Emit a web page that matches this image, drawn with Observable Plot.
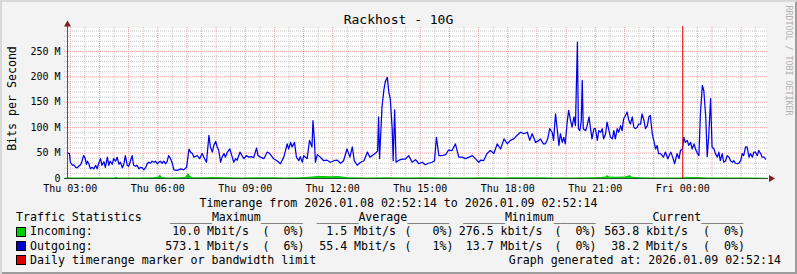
<!DOCTYPE html>
<html>
<head>
<meta charset="utf-8">
<script src="https://cdn.jsdelivr.net/npm/d3@7"></script>
<script src="https://cdn.jsdelivr.net/npm/@observablehq/plot@0.6"></script>
<style>
html,body{margin:0;padding:0;background:#ffffff;}
#wrap{position:relative;width:797px;height:274px;background:#f3f3f3;overflow:hidden;
 box-shadow: inset 2px 2px 0 #d8d8d8, inset -2px -2px 0 #9c9c9c;
 font-family:"DejaVu Sans Mono",monospace;color:#000;}
#wrap svg{position:absolute;left:0;top:0;}
.t{position:absolute;white-space:pre;}
.box{position:absolute;width:8px;height:8px;border:1px solid #000;}
</style>
</head>
<body>
<div id="wrap"></div>
<script>
// ---------------- data ----------------
const title = "Rackhost - 10G";
const yLabel = "Bits per Second";
const watermark = "RRDTOOL / TOBI OETIKER";
const timerangeText = "Timerange from 2026.01.08 02:52:14 to 2026.01.09 02:52:14";
const statsTitle = "Traffic Statistics";
const statHeaders = ["Maximum", "Average", "Minimum", "Current"];
const seriesNames = ["Incoming:", "Outgoing:"];
const seriesColors = ["#00cc00", "#0000cc"];
const markerText = "Daily timerange marker or bandwidth limit";
const markerColor = "#dd0000";
const generatedText = "Graph generated at: 2026.01.09 02:52:14";
const maxValues = ["10.0 Mbit/s", "573.1 Mbit/s"];
const maxPercents = ["0", "6"];
const avgValues = ["1.5 Mbit/s", "55.4 Mbit/s"];
const avgPercents = ["0", "1"];
const minValues = ["276.5 kbit/s", "13.7 Mbit/s"];
const minPercents = ["0", "0"];
const curValues = ["563.8 kbit/s", "38.2 Mbit/s"];
const curPercents = ["0", "0"];

// y tick values in Mbit/s
const yTicksM = [0, 50, 100, 150, 200, 250];

// Outgoing: minutes after 02:52:14, Mbit/s
const outMinutes = [3,6,8,12,15,19,22,25,29,32,35,38,41,43,46,49,53,56,60,63,66,70,73,77,80,84,87,90,94,97,101,104,108,111,115,118,121,125,128,132,135,138,142,145,149,152,156,159,163,166,169,173,176,180,183,187,190,193,197,200,204,207,210,214,217,221,228,235,241,247,252,255,259,262,269,274,279,284,288,293,296,300,303,307,310,313,317,320,324,327,331,336,341,344,348,351,357,361,365,370,375,380,385,391,394,399,406,413,418,
426,433,440,447,454,457,461,464,469,473,478,481,485,488,495,500,505,507,510,512,516,522,529,536,543,550,557,564,570,577,583,588,592,598,605,612,619,624,629,636,640,642,644,649,653,656,660,663,666,670,672,675,678,684,691,697,704,711,718,725,732,738,745,752,757,761,766,773,780,786,793,800,807,814,821,828,835,841,848,852,858,865,872,879,886,893,900,907,913,920,927,934,941,948,953,958,965,972,
975,981,985,990,994,999,1002,1006,1009,1013,1016,1020,1023,1026,1030,1033,1037,1040,1044,1047,1051,1053,1056,1059,1061,1063,1068,1071,1075,1078,1081,1085,1088,1092,1095,1099,1102,1105,1109,1112,1116,1119,1123,1126,1129,1133,1136,1140,1143,1146,1150,1153,1157,1160,1164,1167,1170,1174,1177,1181,1184,1188,1191,1195,1198,1201,1205,1208,1212,1215,1218,1222,
1228,1232,1237,1243,1247,1251,1256,1260,1263,1267,1270,1273,1277,1280,1284,1287,1291,1294,1298,1301,1304,1308,1311,1315,1318,1321,1325,1328,1332,1335,1339,1342,1345,1349,1352,1356,1359,1363,1366,1370,1373,1376,1380,1383,1387,1390,1393,1397,1400,1404,1407,1411,1414,1417,1421,1424,1428,1431,1435,1438];
const outMbps = [50,49,32,26,27,22,21,24,27,34,45,41,28,34,29,19,22,19,26,19,29,39,26,33,22,42,26,34,28,39,34,42,28,32,21,28,45,26,24,36,45,26,24,26,19,22,21,17,22,29,32,30,34,32,34,29,32,34,30,34,29,33,45,39,32,17,16,19,17,22,58,52,49,42,45,39,49,39,32,85,62,52,65,73,62,56,32,42,49,42,52,58,42,32,39,36,52,45,39,45,42,43,41,60,45,42,39,52,49,
39,35,29,42,68,58,71,62,71,42,35,43,32,45,39,75,62,114,75,32,47,42,35,36,32,35,36,30,35,58,42,62,35,26,32,35,52,42,45,50,54,121,39,140,175,191,199,170,157,98,35,135,32,36,38,38,45,32,37,29,32,27,30,32,35,81,45,45,47,56,55,68,42,42,39,42,45,39,32,36,35,49,55,49,68,58,78,68,75,78,85,91,88,91,75,88,71,75,
78,68,68,78,98,91,75,127,101,65,88,71,81,68,111,134,114,101,121,104,268,98,94,114,193,98,94,104,121,98,78,98,98,75,94,91,98,78,88,111,94,81,78,94,78,98,91,104,94,117,124,131,114,107,121,101,98,101,107,107,127,114,98,104,121,124,88,75,58,65,49,49,
42,52,39,52,42,29,49,39,55,58,81,71,75,65,71,58,68,58,49,45,127,183,173,121,43,81,157,62,58,49,42,52,35,49,32,35,45,42,35,32,35,30,29,30,35,49,45,62,62,42,49,42,52,52,45,55,49,42,42,38];

// Incoming: minutes after 02:52:14, Mbit/s
const inMinutes = [0,20,40,60,80,100,103,106,130,150,180,190,193,197,210,230,245,251,255,260,280,300,330,360,400,430,450,480,500,518,530,545,560,580,620,660,700,740,780,820,860,900,940,980,1000,1040,1080,1100,1110,1113,1117,1130,1150,1160,1164,1180,1220,1260,1280,1300,1320,1360,1400,1438];
const inMbps = [1.2,1.0,0.8,1.2,1.0,1.2,2.6,1.0,1.0,1.2,1.4,3,7,2,1.2,1.5,2,10,4,1.5,1.5,2,1.5,1.2,1.5,1.5,1.2,1.5,2.5,4,4,3.5,4,1.5,1.2,1.5,1.2,1.5,1.2,1.2,1.5,1.2,1.5,1.5,1.2,1.2,1.5,2,3,6,3,2.5,3,6,2.5,1.5,1,1,2,2,1.2,1,1,0.6];

// ---------------- chart ----------------
const start = new Date(2026, 0, 8, 2, 52, 14);
const end = new Date(2026, 0, 9, 2, 52, 14);
const marker = new Date(2026, 0, 9, 0, 0, 0);
const yMax = 295e6;
const pxT = (end - start) / 700;
const pxY = yMax / 150;
const at = m => new Date(+start + m * 60000);

const outgoing = outMinutes.map((m, i) => ({time: at(m), bps: outMbps[i] * 1e6}));
const incoming = inMinutes.map((m, i) => ({time: at(m), bps: inMbps[i] * 1e6}));

const hours = d3.timeHour.range(start, end);
const halfHours = d3.timeMinute.every(30).range(start, end).filter(d => d.getMinutes() === 30);
const labelTicks = d3.timeHour.every(3).range(start, end);
const yTicks = yTicksM.map(v => v * 1e6);
const majorY = yTicks.filter(v => v > 0);
const minorY = d3.range(10, 300, 10).filter(v => v % 50 !== 0).map(v => v * 1e6).filter(v => v <= yMax);
const gx1 = new Date(+start - 2 * pxT), gx2 = new Date(+end + 2 * pxT);

const minorColor = "#c6c6c6", majorColor = "#efa0a0";

const chart = Plot.plot({
  width: 797, height: 274,
  marginLeft: 66, marginRight: 31, marginTop: 28, marginBottom: 96,
  style: {background: "transparent", fontFamily: '"DejaVu Sans Mono", monospace', fontSize: "10px", color: "#000", overflow: "visible"},
  x: {type: "time", domain: [start, end]},
  y: {type: "linear", domain: [0, yMax]},
  marks: [
    Plot.frame({fill: "#ffffff", stroke: "none"}),
    Plot.ruleY(minorY, {x1: gx1, x2: gx2, stroke: minorColor, strokeDasharray: "1,1"}),
    Plot.ruleX(halfHours, {y1: 0, y2: yMax + 2 * pxY, stroke: minorColor, strokeDasharray: "1,1"}),
    Plot.ruleY(majorY, {x1: gx1, x2: gx2, stroke: majorColor, strokeDasharray: "1,1"}),
    Plot.ruleX(hours, {y1: 0, y2: yMax + 2 * pxY, stroke: majorColor, strokeDasharray: "1,1"}),
    Plot.areaY(incoming, {x: "time", y: "bps", fill: "#00cc00"}),
    Plot.lineY(outgoing, {x: "time", y: "bps", stroke: "#0000ee", strokeWidth: 1.25}),
    Plot.ruleX([marker], {y1: 0, y2: yMax + 2 * pxY, stroke: "#e00000", strokeWidth: 1}),
    Plot.ruleY([0], {x1: gx1, x2: gx2, stroke: "#1f5a2a"}),
    Plot.ruleX([start], {y1: 0, y2: yMax + 3 * pxY, stroke: "#555555", dx: 1}),
    Plot.dot([{t: start, v: yMax + 4 * pxY}], {x: "t", y: "v", symbol: "triangle", r: 2.6, fill: "#7f1f1f", stroke: "none", dx: 1}),
    Plot.dot([{t: new Date(+end + 4.5 * pxT), v: 0}], {x: "t", y: "v", symbol: "triangle", rotate: 90, r: 2.6, fill: "#7f1f1f", stroke: "none"}),
    Plot.axisX(labelTicks, {tickFormat: d3.timeFormat("%a %H:%M"), tickSize: 0, tickPadding: 6, label: null}),
    Plot.axisY(yTicks, {tickFormat: d => d === 0 ? "0" : `${d / 1e6} M`, tickSize: 0, tickPadding: 6, label: null})
  ]
});
const wrap = document.getElementById("wrap");
wrap.appendChild(chart);

// ---------------- texts ----------------
function place(txt, x, base, opts = {}) {
  const fs = opts.size || 11.6, L = Math.ceil(fs * 1.25);
  const el = document.createElement("div");
  el.className = "t";
  el.textContent = txt;
  el.style.fontSize = fs + "px";
  el.style.lineHeight = L + "px";
  el.style.color = opts.color || "#000";
  el.style.top = (base - (L - 1.164 * fs) / 2 - 0.928 * fs) + "px";
  if (opts.anchor === "end") el.style.right = (797 - x) + "px";
  else if (opts.anchor === "middle") { el.style.left = (x - 300) + "px"; el.style.width = "600px"; el.style.textAlign = "center"; }
  else el.style.left = x + "px";
  wrap.appendChild(el);
  return el;
}
function rotated(txt, cx, cy, deg, fs, color) {
  const L = Math.ceil(fs * 1.25), W = 200;
  const el = document.createElement("div");
  el.className = "t";
  el.textContent = txt;
  Object.assign(el.style, {fontSize: fs + "px", lineHeight: L + "px", height: L + "px", width: W + "px",
    left: (cx - W / 2) + "px", top: (cy - L / 2) + "px", textAlign: "center", color,
    transform: `rotate(${deg}deg)`, transformOrigin: "50% 50%"});
  wrap.appendChild(el);
}
function box(x, top, color) {
  const el = document.createElement("div");
  el.className = "box";
  Object.assign(el.style, {left: x + "px", top: top + "px", background: color});
  wrap.appendChild(el);
}

place(title, 398.5, 24, {size: 13, anchor: "middle"});
rotated(yLabel, 11.5, 98, -90, 11.6, "#000");
rotated(watermark, 788, 60, 90, 8.3, "#b0b0b0");

const base = [207.5, 221.7, 236, 250.2, 264.4];
place(timerangeText, 398.5, base[0], {anchor: "middle"});
place(statsTitle, 16, base[1]);
const headLeft = [170, 316.5, 463, 610.5];
statHeaders.forEach((h, i) => place("______" + h + "______", headLeft[i], base[1]));

const valRight = [249, 396, 542.5, 688];
const pctLeft = [262.5, 404.5, 554.5, 703];
const pctWidth = [3, 4, 3, 3];
const cols = [[maxValues, maxPercents], [avgValues, avgPercents], [minValues, minPercents], [curValues, curPercents]];
seriesNames.forEach((name, s) => {
  const b = base[2 + s];
  box(16, b - 9, seriesColors[s]);
  place(name, 30, b);
  cols.forEach(([vals, pcts], c) => {
    place(vals[s], valRight[c], b, {anchor: "end"});
    place("(" + pcts[s].padStart(pctWidth[c], " ") + "%)", pctLeft[c], b);
  });
});
box(16, base[4] - 9, markerColor);
place(markerText, 30, base[4]);
place(generatedText, 781, base[4], {anchor: "end"});
</script>
</body>
</html>
